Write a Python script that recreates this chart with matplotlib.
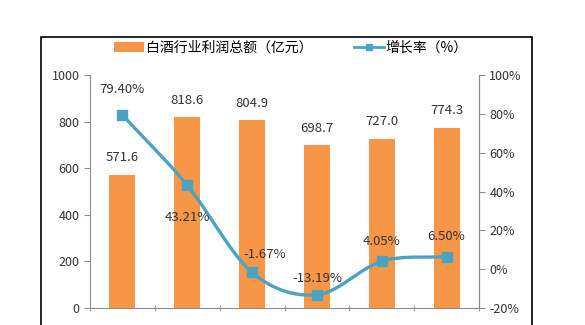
import matplotlib.pyplot as plt
from matplotlib.patches import Rectangle
import numpy as np

plt.rcParams['font.family'] = ['Noto Sans CJK SC', 'DejaVu Sans']

years = ["2011年", "2012年", "2013年", "2014年", "2015年", "2016年"]
profit = [571.6, 818.6, 804.9, 698.7, 727.0, 774.3]
growth = [79.40, 43.21, -1.67, -13.19, 4.05, 6.50]
growth_labels = ["79.40%", "43.21%", "-1.67%", "-13.19%", "4.05%", "6.50%"]

bar_color = "#F79646"
line_color = "#4AA3C2"
grey = "#8C8C8C"


def smooth(xs, ys, n=30):
    """Catmull-Rom curve through the points (like Excel smoothed line)"""
    xs = np.asarray(xs, float)
    ys = np.asarray(ys, float)
    px = np.concatenate([[2 * xs[0] - xs[1]], xs, [2 * xs[-1] - xs[-2]]])
    py = np.concatenate([[2 * ys[0] - ys[1]], ys, [2 * ys[-1] - ys[-2]]])
    ox, oy = [], []
    t = np.linspace(0, 1, n)
    for i in range(1, len(px) - 2):
        for p, o in ((px, ox), (py, oy)):
            p0, p1, p2, p3 = p[i - 1], p[i], p[i + 1], p[i + 2]
            o.extend(0.5 * ((2 * p1) + (-p0 + p2) * t
                            + (2 * p0 - 5 * p1 + 4 * p2 - p3) * t ** 2
                            + (-p0 + 3 * p1 - 3 * p2 + p3) * t ** 3))
    return ox, oy


fig = plt.figure(figsize=(5.85, 3.25), dpi=100)
fig.patches.append(Rectangle((41 / 585, -0.1), 491 / 585, 1.1 - 37 / 325,
                             transform=fig.transFigure, fill=False,
                             edgecolor="black", linewidth=1.2))

ax = fig.add_axes([90 / 585, 1 - 308 / 325, 389 / 585, 233 / 325])
ax2 = ax.twinx()

x = np.arange(len(years))
ax.bar(x, profit, width=0.4, color=bar_color, zorder=2,
       label="白酒行业利润总额（亿元）")
for xi, v in zip(x, profit):
    ax.text(xi, v + 45, f"{v:.1f}", ha="center", va="bottom",
            fontsize=9.5, color="#333333")

sx, sy = smooth(x, growth)
ax2.plot(sx, sy, color=line_color, linewidth=2.4, zorder=3)
ax2.plot(x, growth, "s", color=line_color, markersize=6.5, zorder=4)
ax2.plot([], [], "-s", color=line_color, linewidth=2, markersize=5,
         label="增长率（%）")

label_offsets = [(0, 10), (0, -13), (0.2, 6), (0, 5), (0, 7), (0, 7)]
for xi, v, s, (dx, dy) in zip(x, growth, growth_labels, label_offsets):
    ax2.text(xi + dx, v + dy, s, ha="center",
             va="bottom" if dy > 0 else "top", fontsize=9.5, color="#333333")

ax.set_xlim(-0.5, len(years) - 0.5)
ax.set_ylim(0, 1000)
ax.set_yticks(range(0, 1001, 200))
ax2.set_ylim(-20, 100)
ax2.set_yticks(range(-20, 101, 20))
ax2.set_yticklabels([f"{v}%" for v in range(-20, 101, 20)])

ax.set_xticks(x)
ax.set_xticklabels(years, fontsize=8.5, color="#666666")
ax.set_xticks(np.arange(-0.5, len(years), 1), minor=True)
ax.tick_params(axis="x", which="major", length=0, pad=14)
ax.tick_params(axis="x", which="minor", length=5, direction="inout",
               color=grey)

for a in (ax, ax2):
    a.spines["top"].set_visible(False)
    for s in ("left", "right", "bottom"):
        a.spines[s].set_color(grey)
    a.tick_params(axis="y", length=4, color=grey, labelsize=9,
                  labelcolor="#333333")
ax2.spines["left"].set_visible(False)
ax2.spines["bottom"].set_visible(False)

h1, l1 = ax.get_legend_handles_labels()
h2, l2 = ax2.get_legend_handles_labels()
fig.legend(h1 + h2, l1 + l2, loc="center", bbox_to_anchor=(0.497, 1 - 48 / 325),
           ncol=2, frameon=False, fontsize=10, handlelength=2.2,
           columnspacing=3, handletextpad=0.1)

fig.savefig("out.png", dpi=100)
